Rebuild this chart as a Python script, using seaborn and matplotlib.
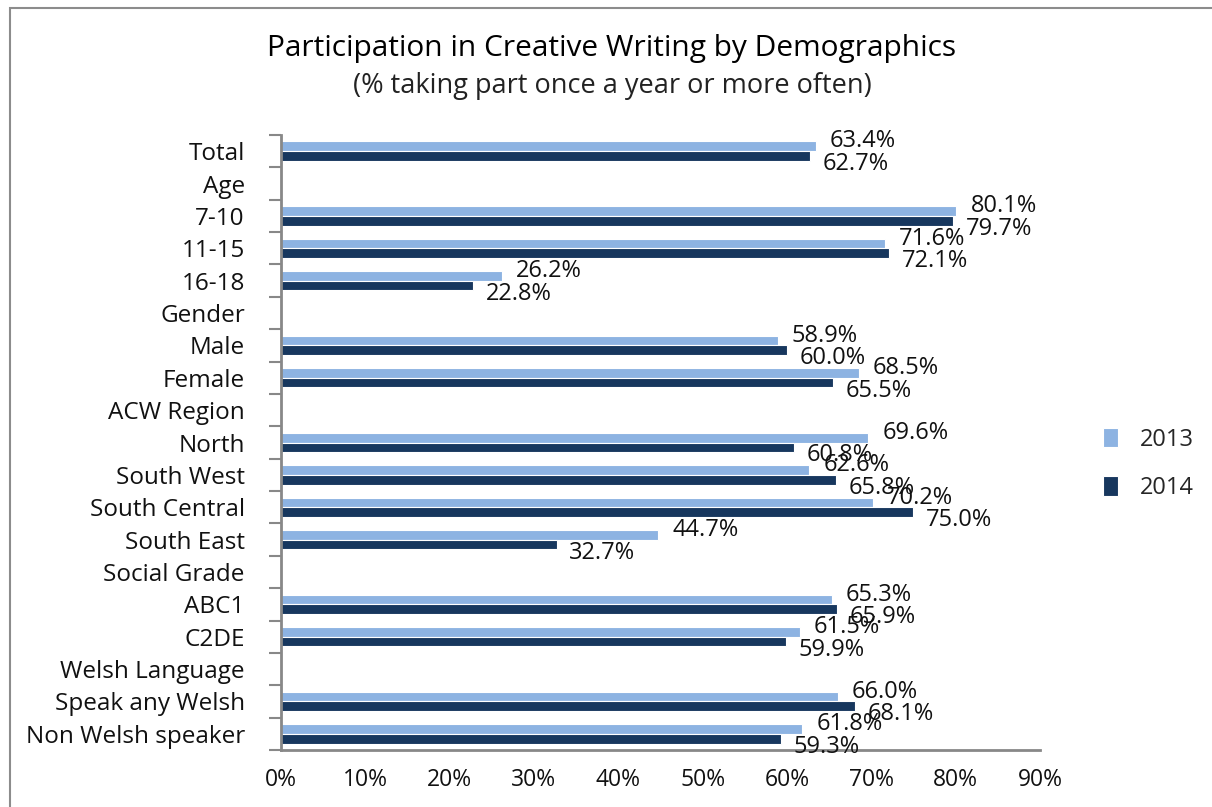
import matplotlib
matplotlib.use("Agg")
import matplotlib.pyplot as plt
from matplotlib.patches import Rectangle
from matplotlib.ticker import FixedLocator, PercentFormatter
import pandas as pd
import numpy as np
import seaborn as sns

categories = ["Total", "Age", "7-10", "11-15", "16-18", "Gender", "Male", "Female",
              "ACW Region", "North", "South West", "South Central", "South East",
              "Social Grade", "ABC1", "C2DE", "Welsh Language", "Speak any Welsh",
              "Non Welsh speaker"]
values_2013 = [63.4, None, 80.1, 71.6, 26.2, None, 58.9, 68.5, None, 69.6, 62.6, 70.2,
               44.7, None, 65.3, 61.5, None, 66.0, 61.8]
values_2014 = [62.7, None, 79.7, 72.1, 22.8, None, 60.0, 65.5, None, 60.8, 65.8, 75.0,
               32.7, None, 65.9, 59.9, None, 68.1, 59.3]
years = ["2013", "2014"]
x_ticks = [0, 10, 20, 30, 40, 50, 60, 70, 80, 90]

df = pd.DataFrame({
    "category": categories * 2,
    "year": [years[0]] * len(categories) + [years[1]] * len(categories),
    "value": values_2013 + values_2014,
})
df["value"] = df["value"].astype(float)

sns.set_style("white")
plt.rcParams["font.family"] = ["Open Sans", "DejaVu Sans"]

fig = plt.figure(figsize=(12.12, 8.07), dpi=100)
ax = fig.add_axes([0.2318, 0.0706, 0.6262, 0.7621])

palette = {"2013": "#8db3e2", "2014": "#17375e"}
sns.barplot(data=df.dropna(), x="value", y="category", hue="year", order=categories,
            hue_order=years, palette=palette, orient="h", width=0.6, saturation=1,
            linewidth=0.8, edgecolor="white", ax=ax)

n = len(categories)
ax.set_xlim(0, 90)
ax.set_ylim(n - 0.5, -0.5)

ax.xaxis.set_major_locator(FixedLocator(x_ticks))
ax.xaxis.set_major_formatter(PercentFormatter(decimals=0))
ax.tick_params(axis="x", direction="in", length=8, width=1.5, color="#888888",
               labelsize=16.5, pad=13, labelcolor="#111111")

ax.yaxis.set_major_locator(FixedLocator(np.arange(-0.5, n, 1.0)))
ax.yaxis.set_minor_locator(FixedLocator(np.arange(n)))
ax.set_yticklabels([], minor=False)
ax.set_yticklabels(categories, minor=True)
ax.tick_params(axis="y", which="major", direction="out", length=9, width=1.5,
               color="#888888", left=True)
ax.tick_params(axis="y", which="minor", length=0, labelsize=17.5, pad=26,
               labelcolor="#111111")

for side in ["top", "right"]:
    ax.spines[side].set_visible(False)
for side in ["left", "bottom"]:
    ax.spines[side].set_color("#888888")
    ax.spines[side].set_linewidth(2)

ax.set_xlabel("")
ax.set_ylabel("")

# data labels: 2013 above-right of its bar, 2014 below-right
for i in range(n):
    v13 = values_2013[i]
    v14 = values_2014[i]
    if v13 is not None:
        ax.text(v13 + 1.7, i - 0.3, f"{v13:.1f}%", ha="left", va="center",
                fontsize=17, color="#111111")
    if v14 is not None:
        ax.text(v14 + 1.5, i + 0.4, f"{v14:.1f}%", ha="left", va="center",
                fontsize=17, color="#111111")

handles, labels = ax.get_legend_handles_labels()
ax.legend(handles, labels, loc="center left", bbox_to_anchor=(1.055, 0.465),
          frameon=False, fontsize=17, handlelength=0.65, handleheight=0.9,
          labelspacing=1.05, handletextpad=0.9)

fig.text(0.505, 0.94, "Participation in Creative Writing by Demographics",
         ha="center", va="center", fontsize=21.5, color="#000000")
fig.text(0.505, 0.893, "(% taking part once a year or more often)",
         ha="center", va="center", fontsize=19.5, color="#222222")

fig.patches.append(Rectangle((10 / 1212, -0.1), 1.2, 1.1 - 8 / 807,
                             transform=fig.transFigure, fill=False,
                             edgecolor="#8c8c8c", linewidth=1.5))

plt.savefig("out.png", dpi=100)
plt.close()
